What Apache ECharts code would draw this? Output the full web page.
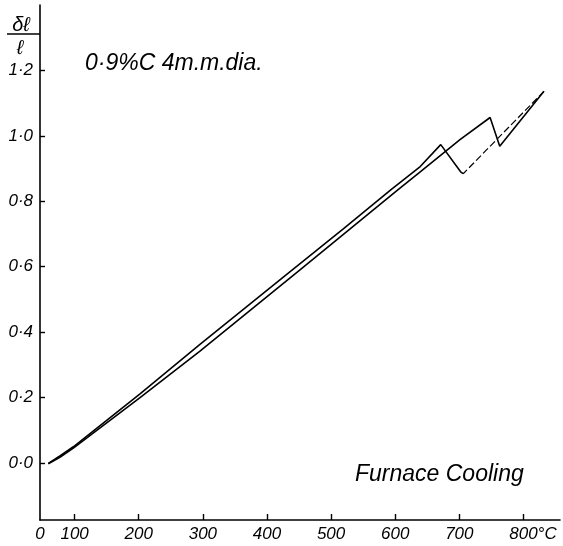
<!DOCTYPE html>
<html>
<head>
<meta charset="utf-8">
<script src="https://cdn.jsdelivr.net/npm/echarts@6/dist/echarts.min.js"></script>
<style>
html,body{margin:0;padding:0;background:#fff;}
#chart{width:563px;height:546px;}
</style>
</head>
<body>
<div id="chart"></div>
<script>
// Temperature (°C) and relative expansion dl/l (%)
const heatingT = [59, 77, 98, 150, 202, 295, 451, 605, 639, 701, 748, 763, 832];
const heatingV = [-0.003, 0.017, 0.045, 0.122, 0.199, 0.341, 0.589, 0.836, 0.890, 0.988, 1.056, 0.968, 1.136];

const coolingHighT = [832, 706];
const coolingHighV = [1.136, 0.884];

const coolingLowT = [706, 702, 671, 639, 594, 519, 425, 295, 202, 150, 98, 77, 59];
const coolingLowV = [0.884, 0.890, 0.973, 0.906, 0.836, 0.715, 0.567, 0.361, 0.211, 0.130, 0.049, 0.021, -0.002];

const xTickValues = [100, 200, 300, 400, 500, 600, 700, 800];
const xOrigin = 46;
const yTickValues = [0, 0.2, 0.4, 0.6, 0.8, 1.0, 1.2];

const zip = (a, b) => a.map((v, i) => [v, b[i]]);
const FONT = '"Liberation Sans", "DejaVu Sans", sans-serif';

const chart = echarts.init(document.getElementById('chart'), null, {renderer: 'canvas'});
chart.setOption({
  animation: false,
  backgroundColor: '#fff',
  grid: {left: 40, right: 3, top: 5, bottom: 26, containLabel: false},
  xAxis: {
    type: 'value',
    min: xOrigin,
    max: 857,
    splitLine: {show: false},
    axisLine: {onZero: false, lineStyle: {color: '#000', width: 1.6}},
    axisTick: {inside: true, length: 6, customValues: xTickValues, lineStyle: {color: '#000', width: 1.4}},
    axisLabel: {
      customValues: [xOrigin].concat(xTickValues),
      color: '#000', fontSize: 17, fontStyle: 'italic', fontFamily: FONT, margin: 6,
      formatter: v => v === xOrigin ? '0' : (v === 800 ? '{p|}{v|800}{u|°C}' : String(v)),
      rich: {
        p: {width: 19},
        v: {color: '#000', fontSize: 17, fontStyle: 'italic', fontFamily: FONT},
        u: {color: '#000', fontSize: 17, fontStyle: 'italic', fontFamily: FONT, width: 19}
      }
    }
  },
  yAxis: {
    type: 'value',
    min: -0.175,
    max: 1.40,
    splitLine: {show: false},
    axisLine: {show: true, onZero: false, lineStyle: {color: '#000', width: 1.6}},
    axisTick: {show: true, inside: true, length: 5, customValues: yTickValues, lineStyle: {color: '#000', width: 1.4}},
    axisLabel: {
      customValues: yTickValues,
      color: '#000', fontSize: 17, fontStyle: 'italic', fontFamily: FONT, margin: 7,
      formatter: v => v.toFixed(1).replace('.', '·')
    }
  },
  graphic: [
    {type: 'text', x: 21, y: 25, style: {text: 'δℓ', font: 'italic 20px ' + FONT, fill: '#000', align: 'center', verticalAlign: 'middle'}},
    {type: 'line', shape: {x1: 7, y1: 34, x2: 40, y2: 34}, style: {stroke: '#000', lineWidth: 1.6}},
    {type: 'text', x: 20, y: 48, style: {text: 'ℓ', font: 'italic 20px ' + FONT, fill: '#000', align: 'center', verticalAlign: 'middle'}},
    {type: 'text', x: 85, y: 64, style: {text: '0·9%C 4m.m.dia.', font: 'italic 23px ' + FONT, fill: '#000', align: 'left', verticalAlign: 'middle'}},
    {type: 'text', x: 355, y: 475, style: {text: 'Furnace Cooling', font: 'italic 23px ' + FONT, fill: '#000', align: 'left', verticalAlign: 'middle'}}
  ],
  series: [
    {name: 'Heating', type: 'line', data: zip(heatingT, heatingV), symbol: 'none', smooth: false,
     lineStyle: {color: '#000', width: 1.6}},
    {name: 'Cooling (austenite)', type: 'line', data: zip(coolingHighT, coolingHighV), symbol: 'none', smooth: false,
     lineStyle: {color: '#000', width: 1.2, type: [7, 3]}},
    {name: 'Cooling', type: 'line', data: zip(coolingLowT, coolingLowV), symbol: 'none', smooth: false,
     lineStyle: {color: '#000', width: 1.6}}
  ]
});
</script>
</body>
</html>
